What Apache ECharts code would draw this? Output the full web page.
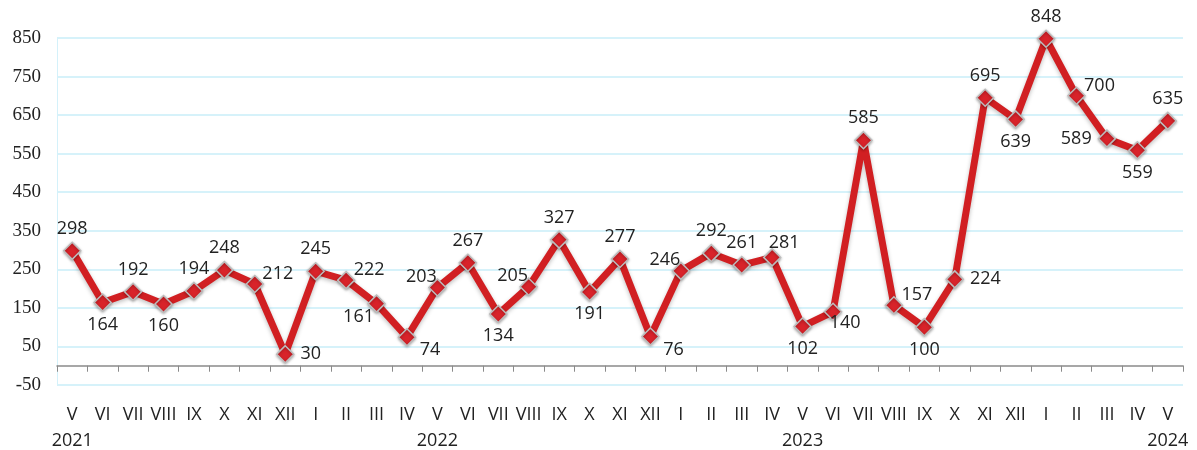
<!DOCTYPE html>
<html>
<head>
<meta charset="UTF-8">
<title>Chart</title>
<script src="https://cdn.jsdelivr.net/npm/echarts@6/dist/echarts.min.js"></script>
<style>
  body { margin: 0; background: #fff; }
  #chart { width: 1197px; height: 450px; }
</style>
</head>
<body>
<div id="chart"></div>
<script>
// месяцы и годы под осью
const months = ['V','VI','VII','VIII','IX','X','XI','XII','I','II','III','IV','V','VI','VII','VIII','IX','X','XI','XII','I','II','III','IV','V','VI','VII','VIII','IX','X','XI','XII','I','II','III','IV','V'];
const years = ['2021','','','','','','','','','','','','2022','','','','','','','','','','','','2023','','','','','','','','','','','','2024'];
const values = [298,164,192,160,194,248,212,30,245,222,161,74,203,267,134,205,327,191,277,76,246,292,261,281,102,140,585,157,100,224,695,639,848,700,589,559,635];
// где стоит подпись: t/b/r/l, tr = справа сверху и т.д.
const labelPos = ['t','b','t','b','t','t','tr','r','t','tr','bl','br','tl','t','b','tl','t','b','t','br','tl','t','t','Tr','b','Br','t','tr','b','r','t','b','t','tr','l','b','t'];

const posMap = {
  t:  { position: 'top' },
  b:  { position: 'bottom' },
  r:  { position: 'right', distance: 6 },
  l:  { position: 'left', distance: 6 },
  tr: { position: 'inside', offset: [23, -10] },
  br: { position: 'inside', offset: [23, 13] },
  tl: { position: 'inside', offset: [-16, -11] },
  bl: { position: 'inside', offset: [-18, 13] },
  Tr: { position: 'inside', offset: [12, -15] },
  Br: { position: 'inside', offset: [12, 11] }
};

const chart = echarts.init(document.getElementById('chart'));

const seriesData = values.map((v, i) => ({ value: v, label: posMap[labelPos[i]] }));

chart.setOption({
  animation: false,
  grid: { left: 57, right: 14, top: 38, bottom: 64 },
  xAxis: [
    {
      type: 'category',
      data: months,
      boundaryGap: true,
      axisLine: { onZero: true, lineStyle: { color: '#8a8a8a', width: 1.5 } },
      axisTick: { show: true, length: 6, lineStyle: { color: '#8a8a8a' } },
      axisLabel: { show: false },
      splitLine: { show: false }
    },
    {
      type: 'category',
      data: months,
      position: 'bottom',
      boundaryGap: true,
      axisLine: { show: false },
      axisTick: { show: false },
      axisLabel: {
        interval: 0,
        margin: 17,
        formatter: (val, i) => '{m|' + val + '}\n{y|' + (years[i] || ' ') + '}',
        rich: {
          m: { fontFamily: 'Open Sans', fontSize: 18, color: '#222', lineHeight: 26 },
          y: { fontFamily: 'Open Sans', fontSize: 18, color: '#222', lineHeight: 26 }
        }
      }
    }
  ],
  yAxis: {
    type: 'value',
    min: -50,
    max: 850,
    interval: 100,
    axisLine: { show: true, lineStyle: { color: '#d4f1fa' } },
    axisTick: { show: false },
    axisLabel: { fontFamily: "'Liberation Serif', serif", fontSize: 19, color: '#222', margin: 16 },
    splitLine: { lineStyle: { color: '#c9eef8', width: 1.5 } }
  },
  series: [{
    type: 'line',
    data: seriesData,
    symbol: 'diamond',
    symbolSize: 17,
    lineStyle: {
      color: '#d11f22', width: 7,
      shadowColor: 'rgba(0,0,0,0.25)', shadowBlur: 4, shadowOffsetY: 2
    },
    itemStyle: {
      color: '#d8232a', borderColor: '#bdbdbd', borderWidth: 1.5,
      shadowColor: 'rgba(0,0,0,0.3)', shadowBlur: 3, shadowOffsetY: 1
    },
    label: {
      show: true,
      fontFamily: 'Open Sans',
      fontSize: 18,
      color: '#222',
      distance: 4
    }
  }]
});
</script>
</body>
</html>
